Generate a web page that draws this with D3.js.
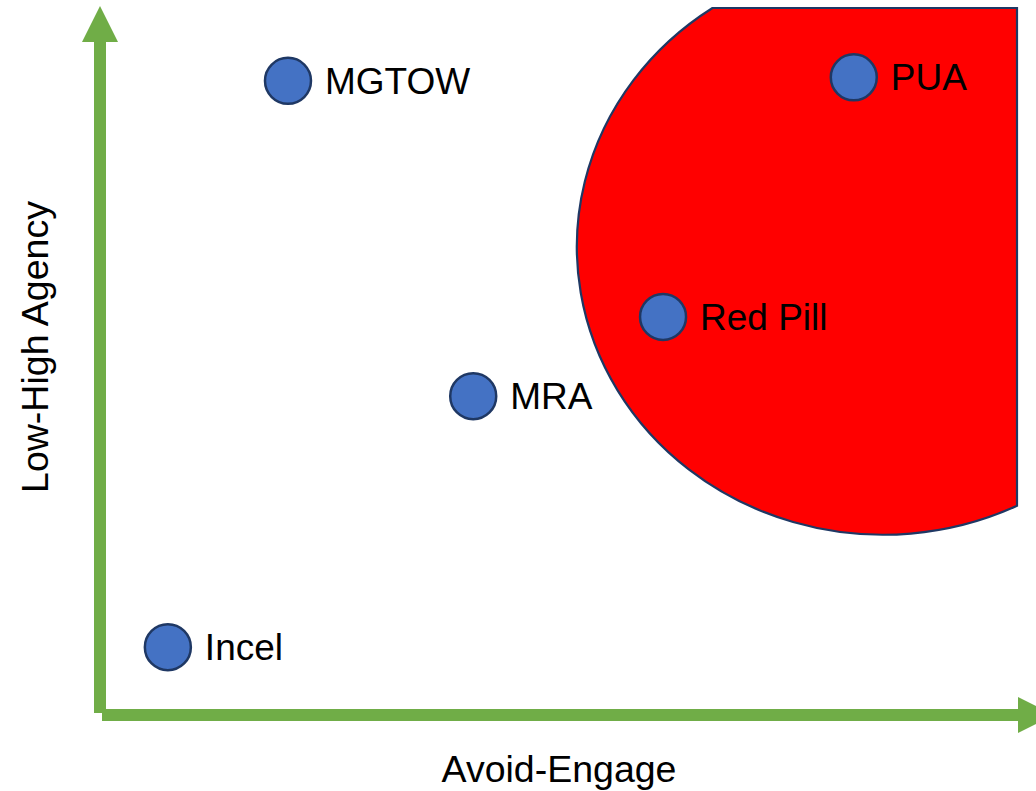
<!DOCTYPE html>
<html>
<head>
<meta charset="utf-8">
<script src="https://cdn.jsdelivr.net/npm/d3@7"></script>
<style>
  body { margin: 0; background: #fff; }
  svg { display: block; font-family: Arial, "Liberation Sans", sans-serif; }
</style>
</head>
<body>
<svg class="chart"></svg>
<script>
// groups placed on the two axes (0-10 each)
const groups = ["Incel", "MGTOW", "MRA", "Red Pill", "PUA"];
const engage = [0.74, 2.05, 4.07, 6.14, 8.22];
const agency = [0.96, 8.97, 4.51, 5.63, 9.02];

// red pill zone: ellipse in data units, clipped to the plot area
const zoneCenter = [8.54, 6.62];
const zoneRadius = [3.34, 4.07];

const xTitle = "Avoid-Engage";
const yTitle = "Low-High Agency";

const
  width = 1036,
  height = 791,
  plot = {left: 100, right: 1017, top: 8, bottom: 715},
  green = "#70ad47",
  navy = "#1f3864";

const xScale = d3.scaleLinear().domain([0, 10]).range([plot.left, plot.right]);
const yScale = d3.scaleLinear().domain([0, 10]).range([plot.bottom, plot.top]);

const svg = d3.select(".chart")
  .attr("width", width)
  .attr("height", height);

// zone shape
const cx = xScale(zoneCenter[0]),
  cy = yScale(zoneCenter[1]),
  rx = xScale(zoneCenter[0] + zoneRadius[0]) - cx,
  ry = cy - yScale(zoneCenter[1] + zoneRadius[1]);
const topY = yScale(10), rightX = xScale(10);
const topX = cx - rx * Math.sqrt(1 - Math.pow((cy - topY) / ry, 2));
const rightY = cy + ry * Math.sqrt(1 - Math.pow((rightX - cx) / rx, 2));

const zone = d3.path();
zone.moveTo(topX, topY);
zone.lineTo(rightX, topY);
zone.lineTo(rightX, rightY);
svg.append("path")
  .attr("d", zone.toString() + ` A${rx},${ry} 0 0 1 ${topX},${topY} Z`)
  .attr("fill", "#ff0000")
  .attr("stroke", navy)
  .attr("stroke-width", 2.2);

// axes as green arrows
const shaft = 12, headW = 36, headL = 36;
const x0 = xScale(0), y0 = yScale(0);

svg.append("rect")
  .attr("x", x0 - shaft / 2)
  .attr("y", 42)
  .attr("width", shaft)
  .attr("height", y0 - 2 - 42)
  .attr("fill", green);
svg.append("path")
  .attr("d", `M${x0 - headW / 2},42 L${x0},6 L${x0 + headW / 2},42 Z`)
  .attr("fill", green);

const hx = 1018;
svg.append("rect")
  .attr("x", x0 + 2)
  .attr("y", y0 - shaft / 2)
  .attr("width", hx - x0 - 2)
  .attr("height", shaft)
  .attr("fill", green);
svg.append("path")
  .attr("d", `M${hx},${y0 - headW / 2} L${hx + headL},${y0} L${hx},${y0 + headW / 2} Z`)
  .attr("fill", green);

// points
const pts = svg.selectAll("g.pt")
  .data(groups)
  .enter()
  .append("g")
    .attr("class", "pt")
    .attr("transform", (d, i) => `translate(${xScale(engage[i])},${yScale(agency[i])})`);

pts.append("circle")
  .attr("r", 23)
  .attr("fill", "#4472c4")
  .attr("stroke", navy)
  .attr("stroke-width", 2.5);

pts.append("text")
  .attr("x", 37)
  .attr("y", 13)
  .attr("font-size", 37)
  .attr("fill", "#000")
  .text(d => d);

// axis titles
svg.append("text")
  .attr("x", 559)
  .attr("y", 782)
  .attr("text-anchor", "middle")
  .attr("font-size", 37.5)
  .text(xTitle);

svg.append("text")
  .attr("transform", "translate(48,347) rotate(-90)")
  .attr("text-anchor", "middle")
  .attr("font-size", 37.5)
  .text(yTitle);
</script>
</body>
</html>
